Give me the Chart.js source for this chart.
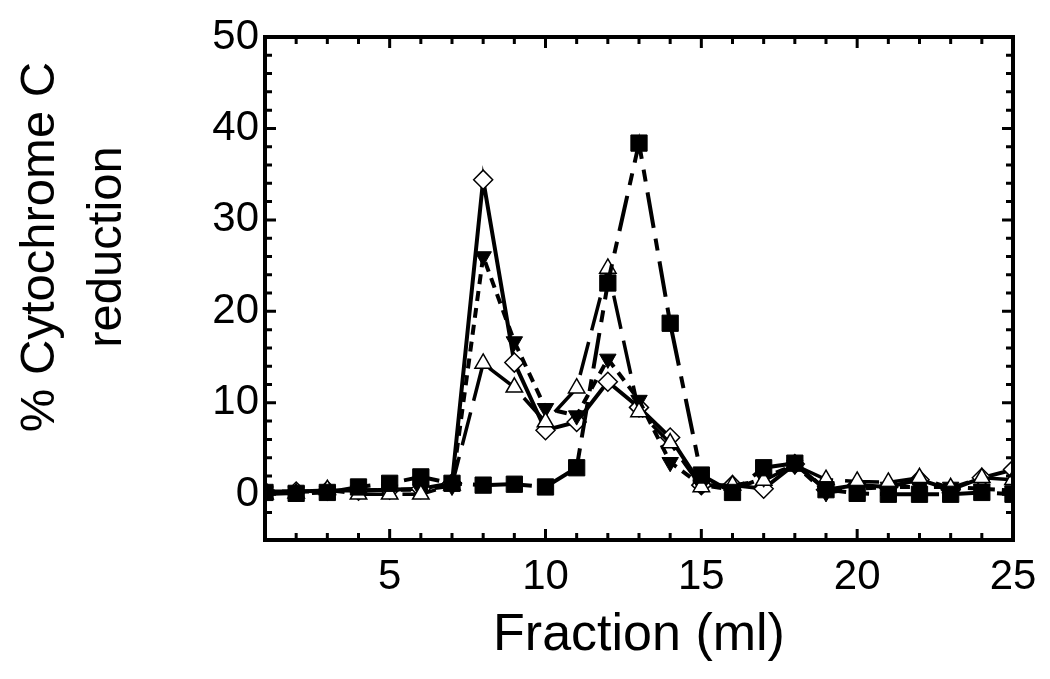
<!DOCTYPE html>
<html>
<head>
<meta charset="utf-8">
<script src="https://cdn.jsdelivr.net/npm/chart.js@4"></script>
<style>
  html, body { margin: 0; padding: 0; background: #fff; }
  #wrap { width: 1050px; height: 679px; }
</style>
</head>
<body>
<div id="wrap"><canvas id="fracChart" width="1050" height="679"></canvas></div>
<script>
// Fractions (ml)
const fractions = [1, 2, 3, 4, 5, 6, 7, 8, 9, 10, 11, 12, 13, 14, 15, 16, 17, 18, 19, 20, 21, 22, 23, 24, 25];

// % cytochrome C reduction per series
const diamondVals  = [0.3, 0.3, 0.4, 0.4, 0.5, 0.6, 1.2, 34.4, 14.4, 7.0, 7.9, 12.3, 9.5, 6.2, 1.0, 1.0, 0.6, 3.3, 0.5, 1.0, 0.8, 1.6, 0.5, 1.8, 2.7];
const downTriVals  = [0.3, 0.3, 0.3, 0.4, 0.5, 0.5, 0.9, 26.0, 16.7, 9.4, 8.6, 14.8, 10.3, 3.5, 1.0, 0.5, 1.8, 3.2, 0.2, 0.6, 0.8, 0.8, 0.8, 0.6, 0.4];
const upTriVals    = [0.0, 0.1, 0.5, 0.0, 0.0, 0.0, 1.0, 14.3, 11.7, 7.9, 11.6, 24.7, 9.0, 5.6, 0.8, 1.0, 1.5, 3.2, 1.6, 1.4, 1.3, 1.8, 0.7, 1.8, 1.6];
const squareVals   = [0.2, 0.1, 0.2, 0.8, 1.2, 1.9, 1.2, 1.0, 1.1, 0.8, 2.9, 23.1, 38.4, 18.7, 2.1, 0.2, 2.9, 3.4, 0.5, 0.1, 0.0, 0.0, 0.0, 0.2, 0.0];

// axis ticks
const xLabelTicks = [5, 10, 15, 20, 25];
const yLabelTicks = [0, 10, 20, 30, 40, 50];

const FONT = "'Liberation Sans', Arial, sans-serif";

function toPoints(vals) {
    return fractions.map((f, i) => ({ x: f, y: vals[i] }));
}

// frame + inward ticks on all four sides, plus the two axis titles
const framePlugin = {
    id: 'frame',
    afterDraw(chart) {
        const ctx = chart.ctx;
        const a = chart.chartArea;
        const xs = chart.scales.x;
        const ys = chart.scales.y;
        ctx.save();
        ctx.strokeStyle = '#000';
        ctx.lineCap = 'butt';

        // ticks
        ctx.lineWidth = 3;
        for (let v = 1; v <= 25; v++) {
            const px = xs.getPixelForValue(v);
            const len = v % 5 === 0 ? 11 : 7;
            ctx.beginPath();
            ctx.moveTo(px, a.bottom); ctx.lineTo(px, a.bottom - len);
            ctx.moveTo(px, a.top); ctx.lineTo(px, a.top + len);
            ctx.stroke();
        }
        for (let v = -2; v <= 50; v += 2) {
            const py = ys.getPixelForValue(v);
            const len = v % 10 === 0 ? 11 : 7;
            ctx.beginPath();
            ctx.moveTo(a.left, py); ctx.lineTo(a.left + len, py);
            ctx.moveTo(a.right, py); ctx.lineTo(a.right - len, py);
            ctx.stroke();
        }

        // frame
        ctx.lineWidth = 4;
        ctx.strokeRect(a.left, a.top, a.right - a.left, a.bottom - a.top);

        // axis titles
        ctx.fillStyle = '#000';
        ctx.textAlign = 'center';
        ctx.textBaseline = 'middle';
        ctx.font = '52px ' + FONT;
        ctx.fillText('Fraction (ml)', (a.left + a.right) / 2, 636);

        ctx.font = '49px ' + FONT;
        ctx.translate(0, 247);
        ctx.rotate(-Math.PI / 2);
        ctx.fillText('% Cytochrome C', 0, 40);
        ctx.fillText('reduction', 0, 107);
        ctx.restore();
    }
};

const ctx = document.getElementById('fracChart').getContext('2d');
new Chart(ctx, {
    type: 'line',
    data: {
        datasets: [
            {
                label: 'squares',
                data: toPoints(squareVals),
                borderColor: '#000',
                borderWidth: 4,
                borderDash: [36, 11, 12, 11],
                pointStyle: 'rect',
                pointRadius: 11.5,
                pointBackgroundColor: '#000',
                pointBorderColor: '#000',
                pointBorderWidth: 1,
                tension: 0
            },
            {
                label: 'open triangles',
                data: toPoints(upTriVals),
                borderColor: '#000',
                borderWidth: 3.5,
                borderDash: [34, 12],
                pointStyle: 'triangle',
                pointRadius: 9.5,
                pointBackgroundColor: '#fff',
                pointBorderColor: '#000',
                pointBorderWidth: 1.5,
                tension: 0
            },
            {
                label: 'filled triangles',
                data: toPoints(downTriVals),
                borderColor: '#000',
                borderWidth: 4,
                borderDash: [10, 7],
                pointStyle: 'triangle',
                pointRotation: 180,
                pointRadius: 9.5,
                pointBackgroundColor: '#000',
                pointBorderColor: '#000',
                pointBorderWidth: 1,
                tension: 0
            },
            {
                label: 'diamonds',
                data: toPoints(diamondVals),
                borderColor: '#000',
                borderWidth: 4,
                pointStyle: 'rectRot',
                pointRadius: 9.5,
                pointBackgroundColor: '#fff',
                pointBorderColor: '#000',
                pointBorderWidth: 1.5,
                tension: 0
            }
        ]
    },
    options: {
        responsive: false,
        animation: false,
        layout: { padding: { top: 37, right: 37, left: 0, bottom: 0 } },
        plugins: {
            legend: { display: false },
            tooltip: { enabled: false }
        },
        scales: {
            x: {
                type: 'linear',
                min: 1,
                max: 25,
                grid: { display: false, drawTicks: false },
                border: { display: false },
                ticks: {
                    autoSkip: false,
                    maxRotation: 0,
                    padding: 12,
                    color: '#000',
                    font: { family: FONT, size: 42 }
                },
                afterBuildTicks: s => { s.ticks = xLabelTicks.map(v => ({ value: v })); },
                afterFit: s => { s.height = 139; }
            },
            y: {
                min: -5,
                max: 50,
                grid: { display: false, drawTicks: false },
                border: { display: false },
                ticks: {
                    autoSkip: false,
                    padding: 6,
                    color: '#000',
                    font: { family: FONT, size: 42 }
                },
                afterBuildTicks: s => { s.ticks = yLabelTicks.map(v => ({ value: v })); },
                afterFit: s => { s.width = 265; }
            }
        }
    },
    plugins: [framePlugin]
});
</script>
</body>
</html>
